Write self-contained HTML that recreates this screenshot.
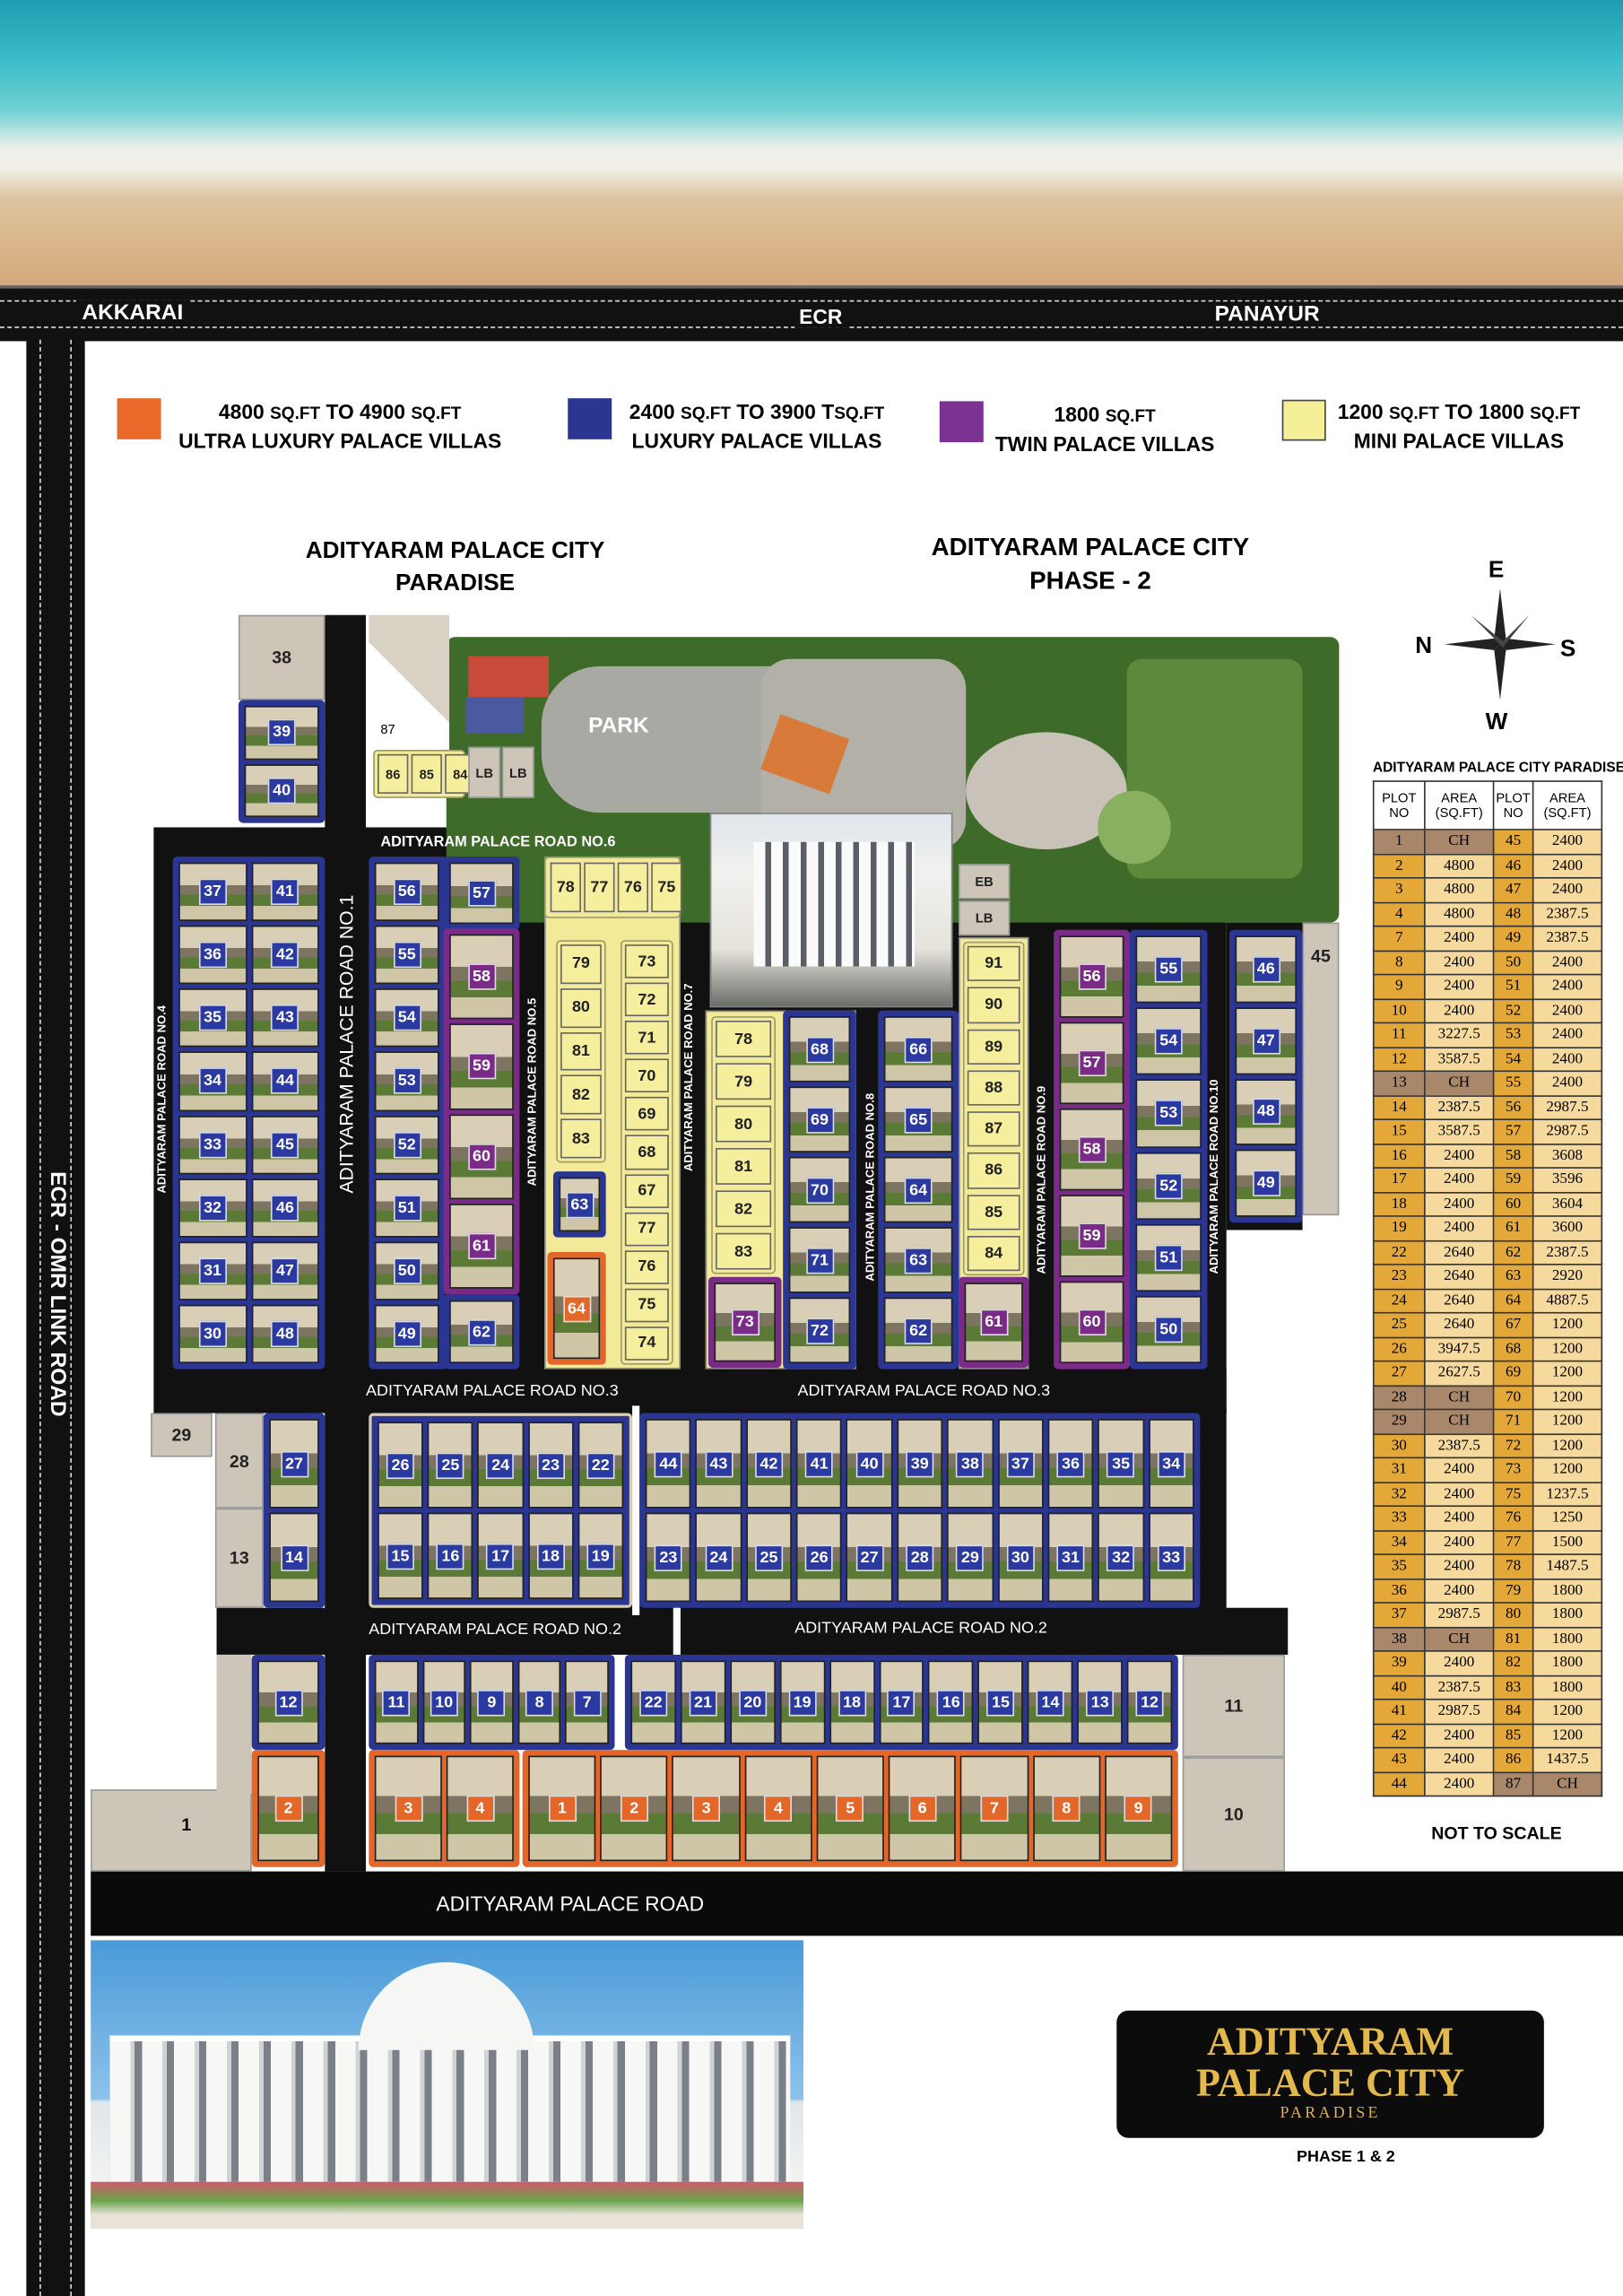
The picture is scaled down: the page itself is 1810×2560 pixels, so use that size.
<!DOCTYPE html>
<html><head><meta charset="utf-8"><style>
*{margin:0;padding:0;box-sizing:border-box}
body{width:1810px;height:2560px;overflow:hidden;background:#fff;font-family:"Liberation Sans",sans-serif}
#s{position:absolute;left:0;top:0;width:1109px;height:1568px;transform:scale(1.6321,1.6327);transform-origin:0 0;background:#fff}
.a{position:absolute}
.t{position:absolute;font-weight:bold;white-space:nowrap}
.g{position:absolute;display:grid;gap:3px;padding:4px;border-radius:3px}
.g b{display:flex;align-items:center;justify-content:center;background:linear-gradient(#d9cfb6 0 38%,#7d7461 38% 55%,#5b7a35 55% 75%,#cfc6a8 75%);border:1px solid #222}
.g b span{color:#fff;font:bold 11px "Liberation Sans",sans-serif;padding:2px 2px;min-width:19px;text-align:center;border:1px solid #ddd}
.B{background:#2b3592}.B b span{background:#2b3aa0}
.P{background:#7a2b87}.P b span{background:#7a2b87}
.O{background:#e4672a}.O b span{background:#e4672a}
.Y{background:#f2ea98;border:1px solid #9c9a6a}.Y b{background:#f5ee9c;border:1px solid #666}.Y b span{background:transparent;color:#222;border:none}
.bg{position:absolute;background:#cdc6b8;border:1px solid #999;display:flex;align-items:center;justify-content:center;font-size:12px;font-weight:bold;color:#222}
.rd{position:absolute;color:#fff;font-size:10px;font-weight:bold;white-space:nowrap}
.v{transform:rotate(-90deg);transform-origin:0 0}
table{border-collapse:collapse;font-family:"Liberation Serif",serif;font-size:10.5px}
td{border:1px solid #333;text-align:center;height:16.5px;padding:0}
th{border:1px solid #333;background:#fff;font:9px "Liberation Sans",sans-serif;height:33px}
td.k{background:#e3a837}td.w{background:#f6d99c}td.c{background:#a8876a}
</style></head><body><div id="s">

<!-- beach -->
<div class="a" style="left:0;top:0;width:1109px;height:200px;background:linear-gradient(180deg,#1f9cb0 0,#3bbcc8 40px,#6fd0d3 75px,#e8efe8 100px,#f2f0e8 115px,#dcc4a0 135px,#d9b487 170px,#d2a87c 200px)"></div>
<!-- ECR road -->
<div class="a" style="left:0;top:195px;width:1109px;height:38px;background:#111;border-top:2px solid #666"></div>
<div class="a" style="left:0;top:205px;width:1109px;height:0;border-top:1px dashed #ddd"></div>
<div class="a" style="left:0;top:223px;width:1109px;height:0;border-top:1px dashed #ddd"></div>
<div class="t" style="left:52px;top:205px;background:#111;color:#fff;font-size:15px;padding:0 4px">AKKARAI</div>
<div class="t" style="left:543px;top:208px;background:#111;color:#fff;font-size:14px;padding:0 3px">ECR</div>
<div class="t" style="left:826px;top:206px;background:#111;color:#fff;font-size:15px;padding:0 4px">PANAYUR</div>
<!-- left link road -->
<div class="a" style="left:18px;top:232px;width:40px;height:1336px;background:#111"></div>
<div class="a" style="left:27px;top:232px;width:0;height:1336px;border-left:1px dashed #ddd"></div>
<div class="a" style="left:48px;top:232px;width:0;height:1336px;border-left:1px dashed #ddd"></div>
<div class="t" style="left:26px;top:1020px;color:#fff;font-size:15px;transform:rotate(90deg);transform-origin:0 0;left:48px;top:800px;background:#111">ECR - OMR LINK ROAD</div>

<!-- legend -->
<div class="a" style="left:80px;top:272px;width:30px;height:28px;background:#e8692a"></div>
<div class="t" style="left:122px;top:272px;font-size:14px;text-align:center;line-height:18px">4800 <small>SQ.FT</small> TO 4900 <small>SQ.FT</small><br>ULTRA LUXURY PALACE VILLAS</div>
<div class="a" style="left:388px;top:272px;width:30px;height:28px;background:#2b3592"></div>
<div class="t" style="left:430px;top:272px;font-size:14px;text-align:center;line-height:18px">2400 <small>SQ.FT</small> TO 3900 T<small>SQ.FT</small><br>LUXURY PALACE VILLAS</div>
<div class="a" style="left:642px;top:274px;width:30px;height:28px;background:#7b3292"></div>
<div class="t" style="left:680px;top:274px;font-size:14px;text-align:center;line-height:18px">1800 <small>SQ.FT</small><br>TWIN PALACE VILLAS</div>
<div class="a" style="left:876px;top:273px;width:30px;height:28px;background:#f6ef9a;border:1px solid #444"></div>
<div class="t" style="left:914px;top:272px;font-size:14px;text-align:center;line-height:18px">1200 <small>SQ.FT</small> TO 1800 <small>SQ.FT</small><br>MINI PALACE VILLAS</div>

<div class="t" style="left:311px;top:366px;font-size:16px;text-align:center;transform:translateX(-50%);line-height:22px">ADITYARAM PALACE CITY<br>PARADISE</div>
<div class="t" style="left:745px;top:362px;font-size:17px;text-align:center;transform:translateX(-50%);line-height:23px">ADITYARAM PALACE CITY<br>PHASE - 2</div>

<!-- compass -->
<svg class="a" style="left:985px;top:400px" width="80" height="80" viewBox="0 0 80 80"><polygon points="40,2 44,36 40,40 36,36" fill="#222"/><polygon points="40,78 44,44 40,40 36,44" fill="#222"/><polygon points="2,40 36,36 40,40 36,44" fill="#222"/><polygon points="78,40 44,36 40,40 44,44" fill="#222"/><polygon points="20,20 42,38 40,40" fill="#444"/><polygon points="60,20 42,42 40,40" fill="#444"/><polygon points="20,60 38,42 40,40" fill="#444"/><polygon points="60,60 38,38 40,40" fill="#444"/></svg>
<div class="t" style="left:1017px;top:381px;font-size:16px">E</div>
<div class="t" style="left:967px;top:433px;font-size:16px">N</div>
<div class="t" style="left:1066px;top:435px;font-size:16px">S</div>
<div class="t" style="left:1015px;top:485px;font-size:16px">W</div>

<!-- table -->
<div class="t" style="left:938px;top:519px;font-size:9.5px">ADITYARAM PALACE CITY PARADISE</div>
<table class="a" style="left:938px;top:533px;width:157px">
<tr><th style="width:35px">PLOT<br>NO</th><th style="width:47px">AREA<br>(SQ.FT)</th><th style="width:27px">PLOT<br>NO</th><th>AREA<br>(SQ.FT)</th></tr>
<tr><td class="c">1</td><td class="c">CH</td><td class="k">45</td><td class="w">2400</td></tr>
<tr><td class="k">2</td><td class="w">4800</td><td class="k">46</td><td class="w">2400</td></tr>
<tr><td class="k">3</td><td class="w">4800</td><td class="k">47</td><td class="w">2400</td></tr>
<tr><td class="k">4</td><td class="w">4800</td><td class="k">48</td><td class="w">2387.5</td></tr>
<tr><td class="k">7</td><td class="w">2400</td><td class="k">49</td><td class="w">2387.5</td></tr>
<tr><td class="k">8</td><td class="w">2400</td><td class="k">50</td><td class="w">2400</td></tr>
<tr><td class="k">9</td><td class="w">2400</td><td class="k">51</td><td class="w">2400</td></tr>
<tr><td class="k">10</td><td class="w">2400</td><td class="k">52</td><td class="w">2400</td></tr>
<tr><td class="k">11</td><td class="w">3227.5</td><td class="k">53</td><td class="w">2400</td></tr>
<tr><td class="k">12</td><td class="w">3587.5</td><td class="k">54</td><td class="w">2400</td></tr>
<tr><td class="c">13</td><td class="c">CH</td><td class="k">55</td><td class="w">2400</td></tr>
<tr><td class="k">14</td><td class="w">2387.5</td><td class="k">56</td><td class="w">2987.5</td></tr>
<tr><td class="k">15</td><td class="w">3587.5</td><td class="k">57</td><td class="w">2987.5</td></tr>
<tr><td class="k">16</td><td class="w">2400</td><td class="k">58</td><td class="w">3608</td></tr>
<tr><td class="k">17</td><td class="w">2400</td><td class="k">59</td><td class="w">3596</td></tr>
<tr><td class="k">18</td><td class="w">2400</td><td class="k">60</td><td class="w">3604</td></tr>
<tr><td class="k">19</td><td class="w">2400</td><td class="k">61</td><td class="w">3600</td></tr>
<tr><td class="k">22</td><td class="w">2640</td><td class="k">62</td><td class="w">2387.5</td></tr>
<tr><td class="k">23</td><td class="w">2640</td><td class="k">63</td><td class="w">2920</td></tr>
<tr><td class="k">24</td><td class="w">2640</td><td class="k">64</td><td class="w">4887.5</td></tr>
<tr><td class="k">25</td><td class="w">2640</td><td class="k">67</td><td class="w">1200</td></tr>
<tr><td class="k">26</td><td class="w">3947.5</td><td class="k">68</td><td class="w">1200</td></tr>
<tr><td class="k">27</td><td class="w">2627.5</td><td class="k">69</td><td class="w">1200</td></tr>
<tr><td class="c">28</td><td class="c">CH</td><td class="k">70</td><td class="w">1200</td></tr>
<tr><td class="c">29</td><td class="c">CH</td><td class="k">71</td><td class="w">1200</td></tr>
<tr><td class="k">30</td><td class="w">2387.5</td><td class="k">72</td><td class="w">1200</td></tr>
<tr><td class="k">31</td><td class="w">2400</td><td class="k">73</td><td class="w">1200</td></tr>
<tr><td class="k">32</td><td class="w">2400</td><td class="k">75</td><td class="w">1237.5</td></tr>
<tr><td class="k">33</td><td class="w">2400</td><td class="k">76</td><td class="w">1250</td></tr>
<tr><td class="k">34</td><td class="w">2400</td><td class="k">77</td><td class="w">1500</td></tr>
<tr><td class="k">35</td><td class="w">2400</td><td class="k">78</td><td class="w">1487.5</td></tr>
<tr><td class="k">36</td><td class="w">2400</td><td class="k">79</td><td class="w">1800</td></tr>
<tr><td class="k">37</td><td class="w">2987.5</td><td class="k">80</td><td class="w">1800</td></tr>
<tr><td class="c">38</td><td class="c">CH</td><td class="k">81</td><td class="w">1800</td></tr>
<tr><td class="k">39</td><td class="w">2400</td><td class="k">82</td><td class="w">1800</td></tr>
<tr><td class="k">40</td><td class="w">2387.5</td><td class="k">83</td><td class="w">1800</td></tr>
<tr><td class="k">41</td><td class="w">2987.5</td><td class="k">84</td><td class="w">1200</td></tr>
<tr><td class="k">42</td><td class="w">2400</td><td class="k">85</td><td class="w">1200</td></tr>
<tr><td class="k">43</td><td class="w">2400</td><td class="k">86</td><td class="w">1437.5</td></tr>
<tr><td class="k">44</td><td class="w">2400</td><td class="c">87</td><td class="c">CH</td></tr>
</table>
<div class="t" style="left:978px;top:1245px;font-size:12px">NOT TO SCALE</div>

<!-- black road network -->
<div class="a" style="left:105px;top:565px;width:733px;height:400px;background:#111"></div>
<div class="a" style="left:838px;top:630px;width:52px;height:210px;background:#111"></div>
<div class="a" style="left:222px;top:420px;width:28px;height:858px;background:#111"></div>
<div class="a" style="left:145px;top:935px;width:693px;height:30px;background:#111"></div>
<div class="a" style="left:222px;top:962px;width:616px;height:168px;background:#111"></div>
<div class="a" style="left:148px;top:1098px;width:732px;height:32px;background:#111"></div>
<div class="a" style="left:62px;top:1278px;width:1047px;height:44px;background:#0a0a0a"></div>
<div class="t" style="left:298px;top:1292px;color:#fff;font-size:14px;font-weight:normal">ADITYARAM PALACE ROAD</div>

<!-- park -->
<div class="a" style="left:305px;top:435px;width:610px;height:195px;background:#3f6b2a;border-radius:6px"></div>
<div class="a" style="left:370px;top:455px;width:250px;height:100px;background:#a9a9a4;border-radius:40px"></div>
<div class="a" style="left:520px;top:450px;width:140px;height:130px;background:#b3b0a8;border-radius:20px"></div>
<div class="a" style="left:660px;top:500px;width:110px;height:80px;background:#c8c2b8;border-radius:50%"></div>
<div class="a" style="left:770px;top:450px;width:120px;height:150px;background:#5d8a3a;border-radius:10px"></div>
<div class="a" style="left:320px;top:448px;width:55px;height:28px;background:#c74a3a"></div>
<div class="a" style="left:318px;top:476px;width:40px;height:25px;background:#4a59a0"></div>
<div class="a" style="left:525px;top:495px;width:50px;height:40px;background:#d77a3a;transform:rotate(20deg)"></div>
<div class="a" style="left:750px;top:540px;width:50px;height:50px;background:#88b060;border-radius:50%"></div>
<div class="t" style="left:402px;top:487px;color:#fff;font-size:15px">PARK</div>
<div class="a" style="left:485px;top:555px;width:166px;height:133px;background:linear-gradient(#dfe6ec 0,#f1f1ef 30%,#e6e3dc 70%,#6c6f6a 100%);border:1px solid #888"></div>
<div class="a" style="left:515px;top:575px;width:110px;height:85px;background:repeating-linear-gradient(90deg,#fafafa 0 8px,#5a5f66 8px 12px)"></div>
<div class="bg" style="left:655px;top:590px;width:35px;height:24px;font-size:9px">EB</div>
<div class="bg" style="left:655px;top:615px;width:35px;height:24px;font-size:9px">LB</div>

<!-- top-left small -->
<div class="bg" style="left:163px;top:420px;width:59px;height:58px">38</div>
<div class="g B" style="left:163px;top:478px;width:59px;height:84px;grid-template-rows:1fr 1fr"><b><span>39</span></b><b><span>40</span></b></div>
<div class="a" style="left:252px;top:420px;width:55px;height:92px;background:linear-gradient(45deg,#fff 50%,#d8d2c5 50%)"></div>
<div class="t" style="left:260px;top:493px;font-size:9px;font-weight:normal">87</div>
<div class="g Y" style="left:255px;top:512px;width:63px;height:33px;grid-template-columns:1fr 1fr 1fr;padding:2px;gap:2px"><b><span style="font-size:9px">86</span></b><b><span style="font-size:9px">85</span></b><b><span style="font-size:9px">84</span></b></div>
<div class="bg" style="left:320px;top:510px;width:22px;height:35px;font-size:9px">LB</div>
<div class="bg" style="left:343px;top:510px;width:22px;height:35px;font-size:9px">LB</div>
<div class="rd" style="left:260px;top:570px">ADITYARAM PALACE ROAD NO.6</div>

<!-- block A -->
<div class="g B" style="left:118px;top:585px;width:104px;height:350px;grid-template-columns:1fr 1fr;grid-template-rows:repeat(8,1fr)"><b><span>37</span></b><b><span>41</span></b><b><span>36</span></b><b><span>42</span></b><b><span>35</span></b><b><span>43</span></b><b><span>34</span></b><b><span>44</span></b><b><span>33</span></b><b><span>45</span></b><b><span>32</span></b><b><span>46</span></b><b><span>31</span></b><b><span>47</span></b><b><span>30</span></b><b><span>48</span></b></div>
<div class="rd v" style="left:106px;top:815px;font-size:8px">ADITYARAM PALACE ROAD NO.4</div>
<div class="rd v" style="left:229px;top:815px;font-size:13px;font-weight:normal">ADITYARAM PALACE ROAD NO.1</div>

<!-- block B -->
<div class="g B" style="left:252px;top:585px;width:52px;height:350px;grid-template-rows:repeat(8,1fr);border-radius:3px 0 0 3px"><b><span>56</span></b><b><span>55</span></b><b><span>54</span></b><b><span>53</span></b><b><span>52</span></b><b><span>51</span></b><b><span>50</span></b><b><span>49</span></b></div>
<div class="g B" style="left:303px;top:585px;width:52px;height:50px"><b><span>57</span></b></div>
<div class="g P" style="left:303px;top:634px;width:52px;height:250px;grid-template-rows:repeat(4,1fr)"><b><span>58</span></b><b><span>59</span></b><b><span>60</span></b><b><span>61</span></b></div>
<div class="g B" style="left:303px;top:884px;width:52px;height:51px"><b><span>62</span></b></div>
<div class="rd v" style="left:359px;top:810px;font-size:8px">ADITYARAM PALACE ROAD NO.5</div>

<!-- block C yellow -->
<div class="a" style="left:372px;top:585px;width:93px;height:350px;background:#f2ea98;border:1px solid #888"></div>
<div class="g Y" style="left:372px;top:585px;width:93px;height:42px;grid-template-columns:repeat(4,1fr);padding:3px;gap:2px"><b><span>78</span></b><b><span>77</span></b><b><span>76</span></b><b><span>75</span></b></div>
<div class="g Y" style="left:380px;top:642px;width:34px;height:152px;grid-template-rows:repeat(5,1fr);padding:2px;gap:3px"><b><span>79</span></b><b><span>80</span></b><b><span>81</span></b><b><span>82</span></b><b><span>83</span></b></div>
<div class="g B" style="left:378px;top:800px;width:36px;height:45px"><b><span>63</span></b></div>
<div class="g O" style="left:374px;top:855px;width:40px;height:77px"><b><span>64</span></b></div>
<div class="g Y" style="left:424px;top:642px;width:36px;height:290px;grid-template-rows:repeat(11,1fr);padding:2px;gap:3px"><b><span>73</span></b><b><span>72</span></b><b><span>71</span></b><b><span>70</span></b><b><span>69</span></b><b><span>68</span></b><b><span>67</span></b><b><span>77</span></b><b><span>76</span></b><b><span>75</span></b><b><span>74</span></b></div>
<div class="rd v" style="left:466px;top:800px;font-size:8px">ADITYARAM PALACE ROAD NO.7</div>

<!-- block D -->
<div class="a" style="left:482px;top:690px;width:103px;height:245px;background:#f2ea98;border:1px solid #888"></div>
<div class="g Y" style="left:486px;top:694px;width:44px;height:176px;grid-template-rows:repeat(6,1fr);padding:2px;gap:4px"><b><span>78</span></b><b><span>79</span></b><b><span>80</span></b><b><span>81</span></b><b><span>82</span></b><b><span>83</span></b></div>
<div class="g P" style="left:484px;top:872px;width:50px;height:62px"><b><span>73</span></b></div>
<div class="g B" style="left:535px;top:690px;width:50px;height:245px;grid-template-rows:repeat(5,1fr)"><b><span>68</span></b><b><span>69</span></b><b><span>70</span></b><b><span>71</span></b><b><span>72</span></b></div>
<div class="rd v" style="left:590px;top:875px;font-size:8px">ADITYARAM PALACE ROAD NO.8</div>

<!-- block E -->
<div class="g B" style="left:600px;top:690px;width:55px;height:245px;grid-template-rows:repeat(5,1fr)"><b><span>66</span></b><b><span>65</span></b><b><span>64</span></b><b><span>63</span></b><b><span>62</span></b></div>
<div class="a" style="left:655px;top:640px;width:48px;height:295px;background:#f2ea98;border:1px solid #888"></div>
<div class="g Y" style="left:658px;top:643px;width:42px;height:228px;grid-template-rows:repeat(8,1fr);padding:2px;gap:4px"><b><span>91</span></b><b><span>90</span></b><b><span>89</span></b><b><span>88</span></b><b><span>87</span></b><b><span>86</span></b><b><span>85</span></b><b><span>84</span></b></div>
<div class="g P" style="left:655px;top:872px;width:48px;height:62px"><b><span>61</span></b></div>
<div class="rd v" style="left:707px;top:870px;font-size:8px">ADITYARAM PALACE ROAD NO.9</div>

<!-- block F -->
<div class="g P" style="left:720px;top:635px;width:52px;height:300px;grid-template-rows:repeat(5,1fr)"><b><span>56</span></b><b><span>57</span></b><b><span>58</span></b><b><span>59</span></b><b><span>60</span></b></div>
<div class="g B" style="left:772px;top:635px;width:53px;height:300px;grid-template-rows:repeat(6,1fr)"><b><span>55</span></b><b><span>54</span></b><b><span>53</span></b><b><span>52</span></b><b><span>51</span></b><b><span>50</span></b></div>
<div class="rd v" style="left:825px;top:870px;font-size:8px">ADITYARAM PALACE ROAD NO.10</div>
<div class="g B" style="left:840px;top:635px;width:50px;height:200px;grid-template-rows:repeat(4,1fr)"><b><span>46</span></b><b><span>47</span></b><b><span>48</span></b><b><span>49</span></b></div>
<div class="bg" style="left:890px;top:630px;width:25px;height:200px;align-items:flex-start;padding-top:15px">45</div>

<div class="rd" style="left:250px;top:944px;font-weight:normal;font-size:11px">ADITYARAM PALACE ROAD NO.3</div>
<div class="rd" style="left:545px;top:944px;font-weight:normal;font-size:11px">ADITYARAM PALACE ROAD NO.3</div>

<!-- middle rows -->
<div class="bg" style="left:103px;top:965px;width:42px;height:30px">29</div>
<div class="bg" style="left:147px;top:965px;width:33px;height:65px">28</div>
<div class="bg" style="left:147px;top:1030px;width:33px;height:68px">13</div>
<div class="g B" style="left:180px;top:965px;width:42px;height:133px;grid-template-rows:1fr 1fr"><b><span>27</span></b><b><span>14</span></b></div>
<div class="g B" style="left:252px;top:965px;width:180px;height:133px;grid-template-columns:repeat(5,1fr);grid-template-rows:1fr 1fr;border:2px solid #d8cbb5"><b><span>26</span></b><b><span>25</span></b><b><span>24</span></b><b><span>23</span></b><b><span>22</span></b><b><span>15</span></b><b><span>16</span></b><b><span>17</span></b><b><span>18</span></b><b><span>19</span></b></div>
<div class="a" style="left:432px;top:960px;width:5px;height:143px;background:#fff"></div>
<div class="g B" style="left:437px;top:965px;width:383px;height:133px;grid-template-columns:repeat(11,1fr);grid-template-rows:1fr 1fr"><b><span>44</span></b><b><span>43</span></b><b><span>42</span></b><b><span>41</span></b><b><span>40</span></b><b><span>39</span></b><b><span>38</span></b><b><span>37</span></b><b><span>36</span></b><b><span>35</span></b><b><span>34</span></b><b><span>23</span></b><b><span>24</span></b><b><span>25</span></b><b><span>26</span></b><b><span>27</span></b><b><span>28</span></b><b><span>29</span></b><b><span>30</span></b><b><span>31</span></b><b><span>32</span></b><b><span>33</span></b></div>
<div class="rd" style="left:252px;top:1107px;font-weight:normal;font-size:11px">ADITYARAM PALACE ROAD NO.2</div>
<div class="rd" style="left:543px;top:1106px;font-weight:normal;font-size:11px">ADITYARAM PALACE ROAD NO.2</div>
<div class="a" style="left:460px;top:1098px;width:5px;height:32px;background:#fff"></div>

<!-- lower section -->
<div class="a" style="left:62px;top:1222px;width:110px;height:56px;background:#cdc6b8;border:1px solid #999"></div>
<div class="a" style="left:148px;top:1130px;width:24px;height:95px;background:#cdc6b8"></div>
<div class="t" style="left:124px;top:1239px;font-size:12px">1</div>
<div class="g B" style="left:172px;top:1130px;width:50px;height:65px"><b><span>12</span></b></div>
<div class="g O" style="left:172px;top:1195px;width:50px;height:80px"><b><span>2</span></b></div>
<div class="g B" style="left:252px;top:1130px;width:168px;height:65px;grid-template-columns:repeat(5,1fr)"><b><span>11</span></b><b><span>10</span></b><b><span>9</span></b><b><span>8</span></b><b><span>7</span></b></div>
<div class="g O" style="left:252px;top:1195px;width:103px;height:80px;grid-template-columns:1fr 1fr"><b><span>3</span></b><b><span>4</span></b></div>
<div class="g B" style="left:427px;top:1130px;width:378px;height:65px;grid-template-columns:repeat(11,1fr)"><b><span>22</span></b><b><span>21</span></b><b><span>20</span></b><b><span>19</span></b><b><span>18</span></b><b><span>17</span></b><b><span>16</span></b><b><span>15</span></b><b><span>14</span></b><b><span>13</span></b><b><span>12</span></b></div>
<div class="g O" style="left:357px;top:1195px;width:448px;height:80px;grid-template-columns:repeat(9,1fr)"><b><span>1</span></b><b><span>2</span></b><b><span>3</span></b><b><span>4</span></b><b><span>5</span></b><b><span>6</span></b><b><span>7</span></b><b><span>8</span></b><b><span>9</span></b></div>
<div class="bg" style="left:808px;top:1130px;width:70px;height:70px">11</div>
<div class="bg" style="left:808px;top:1200px;width:70px;height:78px">10</div>

<!-- palace image -->
<div class="a" style="left:62px;top:1325px;width:487px;height:197px;background:linear-gradient(#4a9ad8,#8cc2ea 55%,#dfe6ea 56%,#f3f3f1 85%,#6aa34a 90%,#d8c9b6)"></div>
<div class="a" style="left:75px;top:1390px;width:465px;height:100px;background:repeating-linear-gradient(90deg,#f7f7f5 0 14px,#cfd3d6 14px 17px,#7b8088 17px 22px);border-top:4px solid #fff"></div>
<div class="a" style="left:245px;top:1340px;width:120px;height:60px;background:#f6f6f4;border-radius:60px 60px 0 0"></div>
<div class="a" style="left:62px;top:1490px;width:487px;height:32px;background:linear-gradient(#d25a6a,#6aa34a 40%,#e8e2d8 70%)"></div>

<!-- logo -->
<div class="a" style="left:763px;top:1373px;width:292px;height:87px;background:#0c0c0c;border-radius:8px"></div>
<div class="t" style="left:909px;top:1380px;transform:translateX(-50%);font-family:'Liberation Serif',serif;font-size:27px;color:#e2b94a;line-height:28px;text-align:center">ADITYARAM<br>PALACE CITY</div>
<div class="t" style="left:909px;top:1437px;transform:translateX(-50%);font-family:'Liberation Serif',serif;font-size:11px;color:#d8b25a;letter-spacing:2px;font-weight:normal">PARADISE</div>
<div class="t" style="left:886px;top:1467px;font-size:11px">PHASE 1 &amp; 2</div>

</div></body></html>
